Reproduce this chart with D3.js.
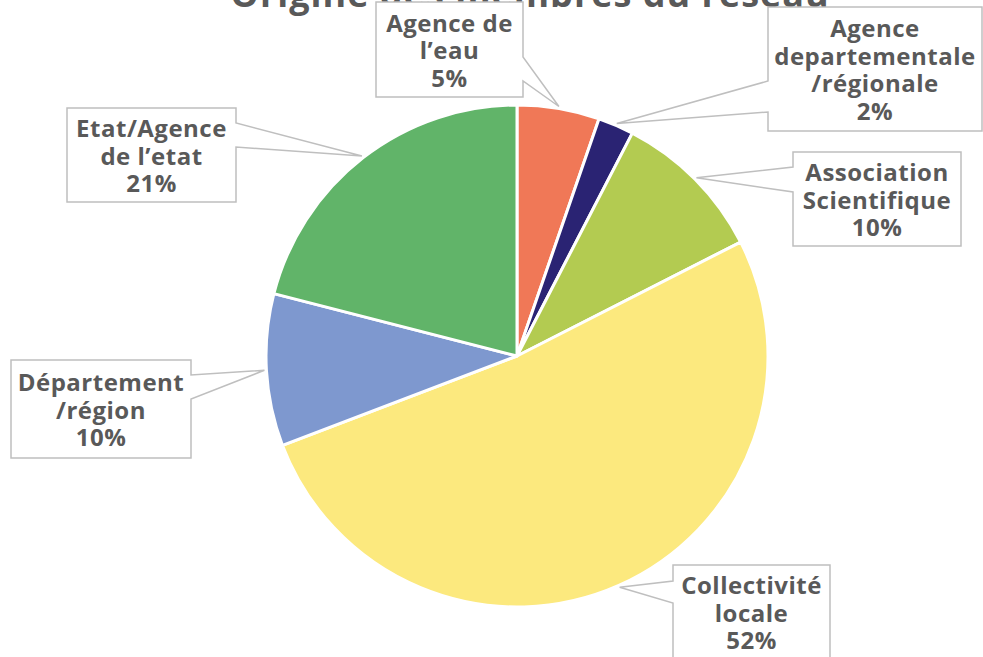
<!DOCTYPE html>
<html>
<head>
<meta charset="utf-8">
<script src="https://cdn.jsdelivr.net/npm/d3@7"></script>
<style>
  html, body { margin: 0; padding: 0; background: #fff; }
  svg { display: block; }
  text { font-family: "Open Sans", "Noto Sans", sans-serif; font-weight: 700; fill: #595959; }
</style>
</head>
<body>
<svg id="chart" width="983" height="657"></svg>
<script>
// ---- data ----
const title = "Origine des membres du réseau";
const categories = [
  ["Agence de", "l\u2019eau"],
  ["Agence", "departementale", "/régionale"],
  ["Association", "Scientifique"],
  ["Collectivité", "locale"],
  ["Département", "/région"],
  ["Etat/Agence", "de l\u2019etat"]
];
const values = [5.3, 2.3, 9.9, 51.7, 9.8, 21.0];
const colors = ["#F07857", "#2A2373", "#B3CB51", "#FCE97E", "#7E98CF", "#61B469"];

// ---- layout (callout boxes) ----
const boxes = [
  { x: 376, y: 2,   w: 147, h: 95, side: "right", b0: 57,  b1: 81 },
  { x: 768, y: 7,   w: 214, h: 124, side: "left", b0: 81,  b1: 112 },
  { x: 793, y: 152, w: 168, h: 94, side: "left",  b0: 167, b1: 192 },
  { x: 673, y: 565, w: 157, h: 94, side: "left",  b0: 581, b1: 603 },
  { x: 11,  y: 360, w: 180, h: 98, side: "right", b0: 375, b1: 399 },
  { x: 67,  y: 108, w: 169, h: 94, side: "right", b0: 123, b1: 147 }
];

const svg = d3.select("#chart");
const cx = 517, cy = 356, R = 251;
const total = d3.sum(values);

// title (drawn first so callout boxes cover it)
svg.append("text")
  .attr("x", 530).attr("y", 7)
  .attr("text-anchor", "middle")
  .style("font-size", "36px")
  .style("letter-spacing", "1px")
  .text(title);

const pie = d3.pie().sort(null).value(d => d)(values);
const arc = d3.arc().innerRadius(0).outerRadius(R);

const g = svg.append("g").attr("transform", `translate(${cx},${cy})`);
g.selectAll("path")
  .data(pie)
  .join("path")
  .attr("d", arc)
  .attr("fill", (d, i) => colors[i])
  .attr("stroke", "#fff")
  .attr("stroke-width", 3)
  .attr("stroke-linejoin", "round");

// callouts
const lineH = 27.5;
pie.forEach((d, i) => {
  const b = boxes[i];
  const mid = (d.startAngle + d.endAngle) / 2;
  const tx = cx + Math.sin(mid) * (R + 2);
  const ty = cy - Math.cos(mid) * (R + 2);
  const x0 = b.x, x1 = b.x + b.w, y0 = b.y, y1 = b.y + b.h;
  let p;
  if (b.side === "right") {
    p = `M${x0},${y0}H${x1}V${b.b0}L${tx},${ty}L${x1},${b.b1}V${y1}H${x0}Z`;
  } else {
    p = `M${x0},${y0}H${x1}V${y1}H${x0}V${b.b1}L${tx},${ty}L${x0},${b.b0}Z`;
  }
  svg.append("path")
    .attr("d", p)
    .attr("fill", "#fff")
    .attr("stroke", "#BFBFBF")
    .attr("stroke-width", 1.5);

  const lines = categories[i].concat([Math.round(d.value / total * 100) + "%"]);
  const n = lines.length;
  const c = (y0 + y1) / 2;
  const first = c + 9.5 - lineH * (n - 1) / 2;
  const t = svg.append("text")
    .attr("text-anchor", "middle")
    .style("font-size", "24px")
    .style("letter-spacing", "0.5px");
  lines.forEach((s, k) => {
    t.append("tspan")
      .attr("x", (x0 + x1) / 2)
      .attr("y", first + k * lineH)
      .text(s);
  });
});
</script>
</body>
</html>
